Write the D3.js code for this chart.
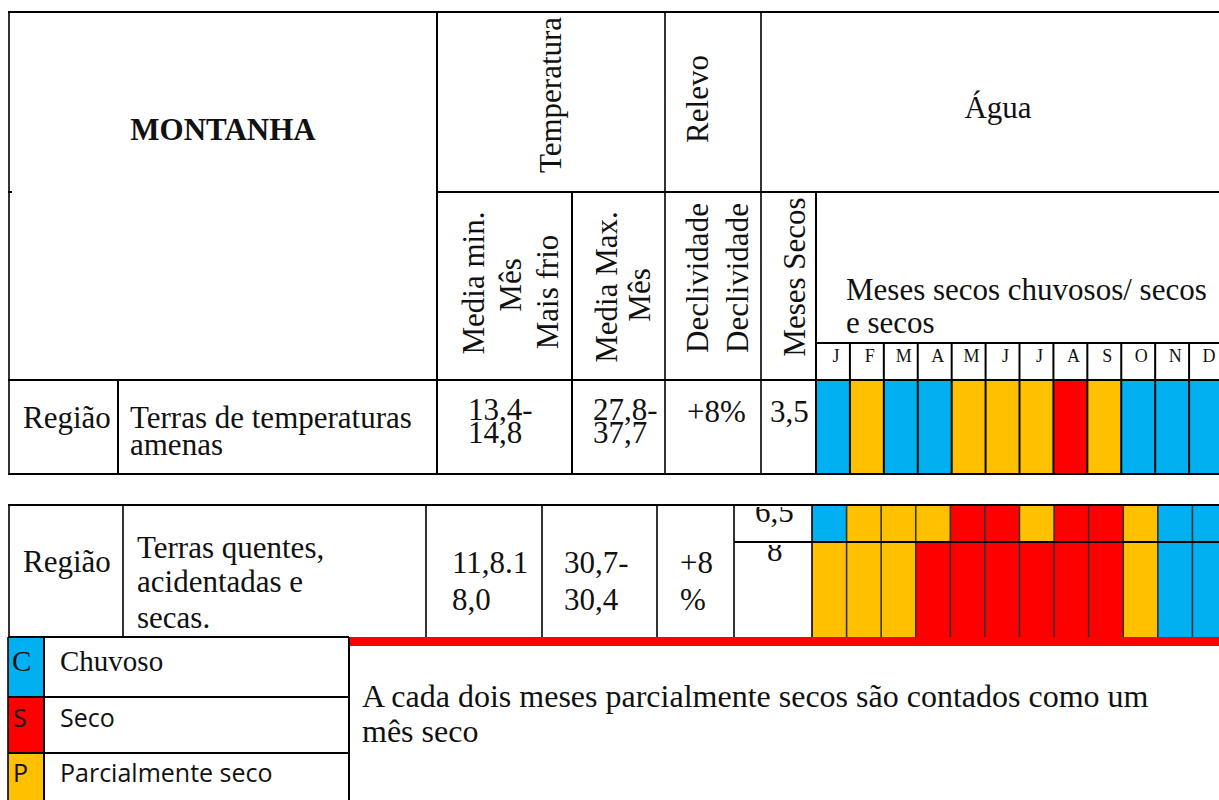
<!DOCTYPE html>
<html><head><meta charset="utf-8">
<script src="https://cdn.jsdelivr.net/npm/d3@7"></script>
<style>body{margin:0;background:#fff}svg{display:block}</style>
</head><body>
<script>
// ---- data ----
const months = ["J","F","M","A","M","J","J","A","S","O","N","D"];
const region1Status = ["C","P","C","C","P","P","P","S","P","C","C","C"];
const region2TopStatus = ["C","P","P","P","S","S","P","S","S","P","C","C"];
const region2BottomStatus = ["P","P","P","S","S","S","S","S","S","P","C","C"];
const legendCodes = ["C","S","P"];
const legendLabels = ["Chuvoso","Seco","Parcialmente seco"];
const region1 = ["Região","Terras de temperaturas","amenas","13,4-","14,8","27,8-","37,7","+8%","3,5"];
const region2 = ["Região","Terras quentes,","acidentadas e","secas.","11,8.1","8,0","30,7-","30,4","+8","%","6,5","8"];
const note = ["A cada dois meses parcialmente secos são contados como um","mês seco"];

const color = d3.scaleOrdinal().domain(["C","S","P"]).range(["#00B0F0","#FF0000","#FFC000"]);
const SERIF = "'Liberation Serif','Times New Roman',serif";
const SANS = "'Open Sans',Lato,sans-serif";
const FS = 31;

const svg = d3.select("body").append("svg").attr("width",1219).attr("height",800);

function line(x1,y1,x2,y2,w=1.6,c="#000"){
  svg.append("line").attr("x1",x1).attr("y1",y1).attr("x2",x2).attr("y2",y2)
    .attr("stroke",c).attr("stroke-width",w);
}
function text(x,y,s,opts={}){
  return svg.append("text").attr("x",x).attr("y",y).text(s)
    .attr("font-family",opts.family||SERIF).attr("font-size",opts.size||FS)
    .attr("font-weight",opts.weight||"normal").attr("fill","#111")
    .attr("text-anchor",opts.anchor||"start");
}
function rot(x,y,s){
  return svg.append("text").attr("transform",`translate(${x},${y}) rotate(-90)`)
    .text(s).attr("font-family",SERIF).attr("font-size",FS).attr("fill","#111")
    .attr("text-anchor","middle");
}

// ---- Table 1 ----
const x1 = d3.scaleBand().domain(d3.range(12)).range([816,1223]);
svg.selectAll(".m1").data(region1Status).join("rect")
  .attr("x",(d,i)=>x1(i)).attr("y",381).attr("width",x1.bandwidth()).attr("height",93)
  .attr("fill",d=>color(d));
svg.selectAll(".ml").data(months).join("text")
  .attr("x",(d,i)=>x1(i)+x1.bandwidth()/2+3).attr("y",362).text(d=>d)
  .attr("font-family",SERIF).attr("font-size",18).attr("text-anchor","middle").attr("fill","#111");
months.forEach((m,i)=>{ if(i>0) line(x1(i),343,x1(i),474,2); });

line(8,12,1219,12,2.2);
line(437,192,1219,192,2);
line(8,192,12,192,2);
line(816,343,1219,343,2);
line(8,380,1219,380,2.2);
line(8,474,1219,474,2.2);
line(9,12,9,474,1.6);
line(118,380,118,474,2);
line(437,12,437,474,2);
line(572,192,572,474,2);
line(665,12,665,474,1.6);
line(761,12,761,474,1.6);
line(816,192,816,474,2);

text(223,140,"MONTANHA",{weight:"bold",anchor:"middle"});
rot(561,95,"Temperatura");
rot(708,99,"Relevo");
text(998,118,"Água",{anchor:"middle"});
rot(484,283,"Media min."); rot(521,285,"Mês"); rot(558,292,"Mais frio");
rot(617,287,"Media Max."); rot(650,295,"Mês");
rot(708,278,"Declividade"); rot(748,278,"Declividade");
rot(805,277,"Meses Secos");
text(846,300,"Meses secos chuvosos/ secos");
text(846,333,"e secos");

text(23,428,region1[0]);
text(130,428,region1[1]);
text(130,455,region1[2]);
text(468,420,region1[3]); text(468,443,region1[4]);
text(593,420,region1[5]); text(593,443,region1[6]);
text(687,422,region1[7]);
text(770,422,region1[8]);

// ---- Table 2 ----
const x2 = d3.scaleBand().domain(d3.range(12)).range([812,1227]);
svg.selectAll(".m2a").data(region2TopStatus).join("rect")
  .attr("x",(d,i)=>x2(i)).attr("y",505).attr("width",x2.bandwidth()).attr("height",37)
  .attr("fill",d=>color(d));
svg.selectAll(".m2b").data(region2BottomStatus).join("rect")
  .attr("x",(d,i)=>x2(i)).attr("y",542).attr("width",x2.bandwidth()).attr("height",95)
  .attr("fill",d=>color(d));
months.forEach((m,i)=>{ if(i>0) line(x2(i),505,x2(i),637,1.6,"#333"); });

svg.append("clipPath").attr("id","c65").append("rect").attr("x",734).attr("y",507).attr("width",78).attr("height",34);
svg.append("clipPath").attr("id","c8").append("rect").attr("x",734).attr("y",545).attr("width",78).attr("height",90);

line(8,505,1219,505,2.2);
line(734,542,1219,542,2.2);
line(8,637,349,637,2.2);
[9,123,426,542,657,734,812].forEach(x=>line(x,505,x,637,1.6));
svg.append("rect").attr("x",349).attr("y",637).attr("width",870).attr("height",9).attr("fill","#FF0000");

text(23,572,region2[0]);
text(137,558,region2[1]);
text(137,592,region2[2]);
text(137,628,region2[3]);
text(452,573,region2[4]); text(452,610,region2[5]);
text(564,573,region2[6]); text(564,610,region2[7]);
text(680,573,region2[8]); text(680,610,region2[9]);
text(755,522,region2[10]).attr("clip-path","url(#c65)");
text(767,561,region2[11]).attr("clip-path","url(#c8)");

// ---- Legend ----
const rowTops = [638,697,753], rowBot=[697,753,800];
legendCodes.forEach((c,i)=>{
  svg.append("rect").attr("x",8).attr("y",rowTops[i]).attr("width",36).attr("height",rowBot[i]-rowTops[i]).attr("fill",color(c));
});
line(8,697,349,697,2); line(8,753,349,753,2);
line(8,637,8,800,1.6); line(44,637,44,800,2); line(349,637,349,800,2);
text(12,671,"C",{size:29});
text(60,671,legendLabels[0],{size:29});
text(13,727,"S",{family:SANS,size:25});
text(60,727,legendLabels[1],{family:SANS,size:25});
text(13,782,"P",{family:SANS,size:25});
text(60,782,legendLabels[2],{family:SANS,size:25});

text(362,707,note[0],{size:32});
text(362,742,note[1],{size:32});
</script>
</body></html>
